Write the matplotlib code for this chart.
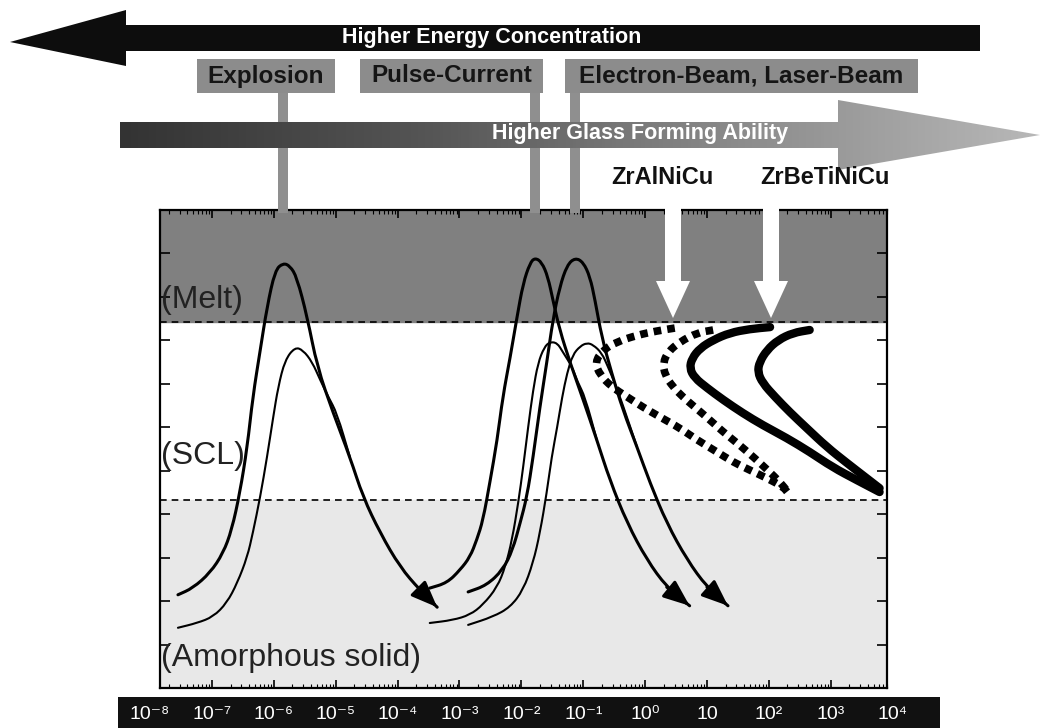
import numpy as np
import matplotlib
matplotlib.use("Agg")
import matplotlib.pyplot as plt
from matplotlib.patches import Polygon, Rectangle, PathPatch
from matplotlib.path import Path
from matplotlib.colors import LinearSegmentedColormap
from matplotlib.ticker import LogLocator, NullFormatter

plt.rcParams['font.family'] = ['Liberation Sans', 'DejaVu Sans']

# x values are log10(time), y values are temperature on a 0-100 scale
T_melt = 76.6
T_glass = 39.3

expl_outer_x = [-7.55, -7.31, -7.03, -6.82, -6.68, -6.55, -6.43, -6.34, -6.22, -6.11, -5.98, -5.85,
                -5.74, -5.63, -5.46, -5.30, -5.04, -4.77, -4.56, -4.28, -3.96, -3.64, -3.36]
expl_outer_y = [19.5, 20.9, 24.1, 28.2, 33.1, 40.8, 50.4, 60.9, 70.7, 79.7, 87.4, 88.9,
                88.3, 86.0, 77.6, 67.2, 57.5, 48.3, 40.0, 32.4, 25.3, 20.5, 16.9]
expl_inner_x = [-7.55, -7.24, -6.98, -6.76, -6.59, -6.43, -6.34, -6.22, -6.11, -6.01, -5.93, -5.82,
                -5.66, -5.53, -5.38, -5.25, -5.12, -4.98, -4.77]
expl_inner_y = [12.6, 13.6, 14.9, 17.8, 22.0, 27.4, 32.4, 40.0, 48.3, 56.7, 63.0, 68.6,
                71.3, 70.7, 68.2, 64.4, 60.9, 57.5, 48.3]

pulse1_outer_x = [-3.48, -3.20, -2.99, -2.83, -2.72, -2.62, -2.51, -2.39, -2.30, -2.18, -2.07, -1.97, -1.86,
                  -1.78, -1.67, -1.57, -1.49, -1.38, -1.21, -1.00, -0.78, -0.57, -0.29, 0.03, 0.35, 0.72]
pulse1_outer_y = [20.9, 22.0, 24.7, 27.4, 31.0, 35.1, 42.9, 51.9, 60.9, 69.2, 77.6, 84.7, 88.9,
                  90.0, 89.1, 86.0, 81.2, 74.9, 68.0, 60.3, 51.9, 43.5, 34.5, 26.8, 21.1, 17.2]
pulse1_inner_x = [-3.48, -3.11, -2.83, -2.62, -2.39, -2.26, -2.15, -2.05, -1.97, -1.89, -1.81, -1.73,
                  -1.63, -1.54, -1.42, -1.33, -1.18, -1.09, -0.97, -0.78]
pulse1_inner_y = [13.6, 14.2, 15.3, 17.4, 21.1, 25.3, 31.0, 38.7, 46.2, 54.6, 62.3, 68.0,
                  71.3, 72.4, 72.2, 70.3, 67.2, 64.0, 60.9, 51.9]

pulse2_outer_x = [-2.86, -2.56, -2.30, -2.14, -2.02, -1.91, -1.81, -1.70, -1.59, -1.49, -1.38, -1.26, -1.13,
                  -1.00, -0.89, -0.81, -0.70, -0.54, -0.36, -0.13, 0.08, 0.35, 0.68, 1.00, 1.34]
pulse2_outer_y = [20.1, 21.5, 24.7, 28.9, 34.5, 40.0, 48.3, 58.8, 68.0, 77.0, 83.9, 88.5, 90.0,
                  89.1, 86.0, 81.2, 73.4, 65.9, 58.2, 50.4, 42.9, 34.5, 26.8, 21.1, 17.2]
pulse2_inner_x = [-2.86, -2.46, -2.18, -1.97, -1.81, -1.70, -1.59, -1.51, -1.42, -1.34, -1.26, -1.17,
                  -1.05, -0.94, -0.84, -0.70, -0.60, -0.49, -0.37, -0.13]
pulse2_inner_y = [13.2, 14.9, 16.9, 20.5, 26.2, 32.4, 40.8, 48.3, 54.6, 60.9, 65.9, 69.7,
                  71.5, 72.2, 71.8, 70.1, 67.2, 63.8, 59.6, 50.4]

# ZrAlNiCu (dotted) and ZrBeTiNiCu (solid) TTT noses
zral_a_x = [0.48, 0.19, -0.13, -0.46, -0.68, -0.81, -0.73, -0.54, -0.29, -0.04, 0.24, 0.56, 0.84,
            1.16, 1.42, 1.69, 1.97, 2.23, 2.31]
zral_a_y = [75.3, 74.7, 73.8, 72.4, 70.7, 68.2, 65.5, 63.0, 60.9, 58.8, 56.7, 54.4, 51.9,
            49.4, 47.3, 45.6, 43.9, 42.1, 40.8]
zral_b_x = [1.10, 0.84, 0.56, 0.37, 0.29, 0.32, 0.45, 0.61, 0.80, 1.01, 1.26, 1.53, 1.77, 1.98, 2.18, 2.31]
zral_b_y = [74.9, 74.3, 72.4, 70.3, 68.0, 65.5, 63.0, 60.9, 58.8, 56.5, 53.6, 50.8, 48.1, 45.6, 43.1, 41.0]
zrbe_a_x = [2.02, 1.69, 1.37, 1.10, 0.89, 0.76, 0.72, 0.80, 1.00, 1.26, 1.58, 1.90, 2.29, 2.66, 3.03, 3.42, 3.79]
zrbe_a_y = [75.5, 75.1, 74.3, 72.8, 71.1, 69.0, 66.9, 64.9, 62.8, 60.3, 57.5, 55.0, 52.3, 49.4, 46.2, 43.5, 41.0]
zrbe_b_x = [2.66, 2.39, 2.15, 1.97, 1.85, 1.82, 1.90, 2.10, 2.34, 2.61, 2.94, 3.26, 3.58, 3.79]
zrbe_b_y = [74.9, 74.3, 72.8, 70.7, 68.2, 66.1, 63.8, 60.9, 57.7, 54.4, 50.4, 47.1, 43.9, 41.8]

time_exps = [-8, -7, -6, -5, -4, -3, -2, -1, 0, 1, 2, 3, 4]
time_labels = ['10⁻⁸', '10⁻⁷', '10⁻⁶', '10⁻⁵', '10⁻⁴', '10⁻³', '10⁻²', '10⁻¹', '10⁰',
               '10', '10²', '10³', '10⁴']

W, H = 1044, 728
fig = plt.figure(figsize=(W / 100, H / 100), dpi=100)

# main diagram box
ax = fig.add_axes([160 / W, 40 / H, 727 / W, 478 / H])
ax.set_xscale('log')
ax.set_xlim(10 ** -7.84, 10 ** 3.91)
ax.set_ylim(0, 100)
ax.axhspan(T_melt, 100, color='#808080', zorder=0)
ax.axhspan(0, T_glass, color='#e8e8e8', zorder=0)
ax.axhline(T_melt, color='k', lw=1.2, ls=(0, (4, 3)))
ax.axhline(T_glass, color='k', lw=1.2, ls=(0, (4, 3)))
for s in ax.spines.values():
    s.set_linewidth(1.6)
ax.set_yticks(np.linspace(0, 100, 12))
ax.tick_params(axis='y', which='major', direction='in', left=True, right=True,
               length=7, width=1.2, labelleft=False)
ax.xaxis.set_major_locator(LogLocator(base=10, numticks=30))
ax.xaxis.set_minor_locator(LogLocator(base=10, subs=np.arange(2, 10), numticks=30))
ax.xaxis.set_minor_formatter(NullFormatter())
ax.tick_params(axis='x', which='both', direction='in', top=True, bottom=True, labelbottom=False)
ax.tick_params(axis='x', which='major', length=6, width=1.2)
ax.tick_params(axis='x', which='minor', length=3, width=0.8)


def smooth(lx, ys, **kw):
    # read points used as quadratic Bezier control points, drawn by matplotlib's Path
    lx = np.asarray(lx, float)
    ys = np.asarray(ys, float)
    verts = [(10 ** lx[0], ys[0]), (10 ** ((lx[0] + lx[1]) / 2), (ys[0] + ys[1]) / 2)]
    codes = [Path.MOVETO, Path.LINETO]
    for i in range(1, len(lx) - 1):
        verts += [(10 ** lx[i], ys[i]),
                  (10 ** ((lx[i] + lx[i + 1]) / 2), (ys[i] + ys[i + 1]) / 2)]
        codes += [Path.CURVE3, Path.CURVE3]
    verts.append((10 ** lx[-1], ys[-1]))
    codes.append(Path.LINETO)
    ax.add_patch(PathPatch(Path(verts, codes), facecolor='none', edgecolor='k', **kw))


def cooling(lx, ys, lw, arrow):
    smooth(lx, ys, lw=lw, capstyle='round', joinstyle='round', zorder=3)
    if arrow:
        ax.annotate('', xy=(10 ** lx[-1], ys[-1]), xytext=(10 ** lx[-2], ys[-2]),
                    arrowprops=dict(arrowstyle='-|>,head_length=0.8,head_width=0.32',
                                    mutation_scale=20, color='k', lw=lw,
                                    shrinkA=0, shrinkB=0), zorder=3)


cooling(expl_outer_x, expl_outer_y, 2.2, True)
cooling(expl_inner_x, expl_inner_y, 1.5, False)
cooling(pulse1_outer_x, pulse1_outer_y, 2.2, True)
cooling(pulse1_inner_x, pulse1_inner_y, 1.5, False)
cooling(pulse2_outer_x, pulse2_outer_y, 2.2, True)
cooling(pulse2_inner_x, pulse2_inner_y, 1.5, False)

for xs, ys in [(zral_a_x, zral_a_y), (zral_b_x, zral_b_y)]:
    smooth(xs, ys, lw=5.5, linestyle=(0, (1, 0.8)), capstyle='butt', zorder=4)
for xs, ys in [(zrbe_a_x, zrbe_a_y), (zrbe_b_x, zrbe_b_y)]:
    smooth(xs, ys, lw=6, capstyle='round', joinstyle='round', zorder=4)

ax.text(0.002, 0.812, '(Melt)', transform=ax.transAxes, fontsize=23, color='#222222',
        ha='left', va='center')
ax.text(0.002, 0.485, '(SCL)', transform=ax.transAxes, fontsize=23, color='#222222',
        ha='left', va='center')
ax.text(0.002, 0.063, '(Amorphous solid)', transform=ax.transAxes, fontsize=23,
        color='#222222', ha='left', va='center')

# time axis bar at the bottom
bar = fig.add_axes([118 / W, 0, 822 / W, 31 / H])
bar.set_xlim(-8 + (118 - 150) / 61.9, -8 + (940 - 150) / 61.9)
bar.set_ylim(0, 1)
bar.set_facecolor('#111111')
bar.set_xticks([])
bar.set_yticks([])
for s in bar.spines.values():
    s.set_visible(False)
for e, lab in zip(time_exps, time_labels):
    bar.text(e, 0.45, lab, color='white', fontsize=14, ha='center', va='center')

# overlay for arrows and labels (pixel layout)
ov = fig.add_axes([0, 0, 1, 1], zorder=5)
ov.patch.set_alpha(0)

# Higher Energy Concentration arrow
ov.add_patch(Polygon([(10, 42), (126, 10), (126, 25), (980, 25), (980, 51), (126, 51), (126, 66)],
                     closed=True, facecolor='#0d0d0d', edgecolor='none', zorder=4))
ov.text(492, 38, 'Higher Energy Concentration', color='white', fontsize=15.5,
        fontweight='bold', ha='center', va='center', zorder=5)

# process boxes and stems
boxes = [(197, 335, 'Explosion'), (360, 543, 'Pulse-Current'), (565, 918, 'Electron-Beam, Laser-Beam')]
for x0, x1, lab in boxes:
    ov.add_patch(Rectangle((x0, 59), x1 - x0, 34, facecolor='#8c8c8c', edgecolor='none', zorder=2))
    ov.text((x0 + x1) / 2, 76, lab, color='#151515', fontsize=17.5, fontweight='bold',
            ha='center', va='center', zorder=3)
for xc in [283, 535, 575]:
    ov.add_patch(Rectangle((xc - 5, 93), 10, 120, facecolor='#8f8f8f', edgecolor='none', zorder=2))

# Higher Glass Forming Ability arrow with gradient
grad = np.linspace(0, 1, 256).reshape(1, -1)
cmap = LinearSegmentedColormap.from_list('gfa', ['#333333', '#555555', '#8a8a8a', '#b8b8b8'])
im = ov.imshow(grad, extent=(120, 1040, 170, 100), cmap=cmap, aspect='auto', zorder=3)
gfa = Polygon([(120, 122), (838, 122), (838, 100), (1040, 135), (838, 170), (838, 148), (120, 148)],
              closed=True, facecolor='none', edgecolor='none', transform=ov.transData)
ov.add_patch(gfa)
im.set_clip_path(gfa)
ov.text(640, 133, 'Higher Glass Forming Ability', color='white', fontsize=15.5,
        fontweight='bold', ha='center', va='center', zorder=5)

# alloy labels and white arrows
for xc, lab in [(662, 'ZrAlNiCu'), (825, 'ZrBeTiNiCu')]:
    ov.text(xc, 178, lab, color='#111111', fontsize=17, fontweight='bold',
            ha='center', va='center', zorder=5)
for xc in [673, 771]:
    ov.add_patch(Polygon([(xc - 8, 205), (xc + 8, 205), (xc + 8, 281), (xc + 17, 281), (xc, 318),
                          (xc - 17, 281), (xc - 8, 281)],
                         closed=True, facecolor='white', edgecolor='none', zorder=4))

ov.set_xlim(0, W)
ov.set_ylim(H, 0)
ov.axis('off')

fig.savefig('out.png', dpi=100)
